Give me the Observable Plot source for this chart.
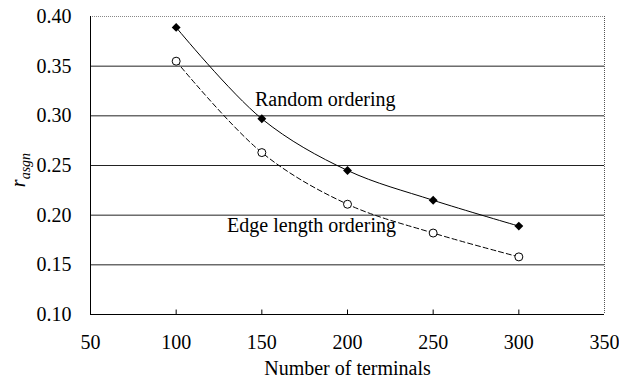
<!DOCTYPE html>
<html><head><meta charset="utf-8">
<script src="https://cdn.jsdelivr.net/npm/d3@7"></script>
<script src="https://cdn.jsdelivr.net/npm/@observablehq/plot@0.6"></script>
<style>body{margin:0;background:#fff}</style>
</head><body><div id="chart"></div>
<script>
const terminals = [100, 150, 200, 250, 300];
const randomOrdering = [0.389, 0.297, 0.245, 0.215, 0.189];
const edgeOrdering = [0.355, 0.263, 0.211, 0.182, 0.158];
const xTicks = [50, 100, 150, 200, 250, 300, 350];
const yTicks = [0.10, 0.15, 0.20, 0.25, 0.30, 0.35, 0.40];
const gridY = [0.15, 0.20, 0.25, 0.30, 0.35];
const seriesLabels = [
  {x: 187, y: 0.316, text: "Random ordering"},
  {x: 179, y: 0.189, text: "Edge length ordering"}
];
const randomData = terminals.map((t, i) => ({x: t, y: randomOrdering[i]}));
const edgeData = terminals.map((t, i) => ({x: t, y: edgeOrdering[i]}));
const serif = "'Liberation Serif', serif";

const chart = Plot.plot({
  width: 619, height: 379,
  marginLeft: 90, marginRight: 15, marginTop: 16, marginBottom: 65,
  style: {fontSize: "20px", color: "#000", background: "#fff"},
  x: {domain: [50, 350]},
  y: {domain: [0.10, 0.40]},
  marks: [
    Plot.ruleY(gridY, {stroke: "#222", strokeWidth: 1}),
    Plot.ruleY([0.40], {stroke: "#888", strokeDasharray: "1,1"}),
    Plot.ruleX([350], {stroke: "#555", strokeDasharray: "1,1"}),
    Plot.ruleX([50], {stroke: "#000"}),
    Plot.ruleY([0.10], {stroke: "#000"}),
    Plot.ruleX(xTicks.slice(1, -1), {y1: 0.10, y2: 0.1045, stroke: "#000"}),
    Plot.axisX({ticks: xTicks, tickFormat: d => String(d), tickSize: 0, tickPadding: 20, label: "Number of terminals", labelAnchor: "center", labelArrow: "none", labelOffset: 60, fontSize: 20}),
    Plot.axisY({ticks: yTicks, tickFormat: d => d.toFixed(2), tickSize: 0, tickPadding: 19, label: null, fontSize: 20}),
    Plot.line(edgeData, {x: "x", y: "y", curve: "catmull-rom", stroke: "#000", strokeWidth: 1, strokeDasharray: "5,3"}),
    Plot.line(randomData, {x: "x", y: "y", curve: "catmull-rom", stroke: "#000", strokeWidth: 1}),
    Plot.dot(edgeData, {x: "x", y: "y", r: 4, stroke: "#000", fill: "#fff", strokeWidth: 1}),
    Plot.dot(randomData, {x: "x", y: "y", symbol: "diamond2", r: 4, fill: "#000", stroke: "none"}),
    Plot.text(seriesLabels, {x: "x", y: "y", text: "text", fontSize: 20, fill: "#000"})
  ]
});
document.getElementById("chart").appendChild(chart);

const svg = d3.select(chart);
const t = svg.append("text")
  .attr("transform", "translate(25,170) rotate(-90)")
  .attr("text-anchor", "middle")
  .attr("font-style", "italic")
  .attr("font-size", 20)
  .attr("fill", "#000");
t.append("tspan").text("r");
t.append("tspan").attr("font-size", 14).attr("dy", 5).text("asgn");
chart.style.fontFamily = serif;
svg.selectAll("g, text").style("font-family", serif);
</script>
</body></html>
